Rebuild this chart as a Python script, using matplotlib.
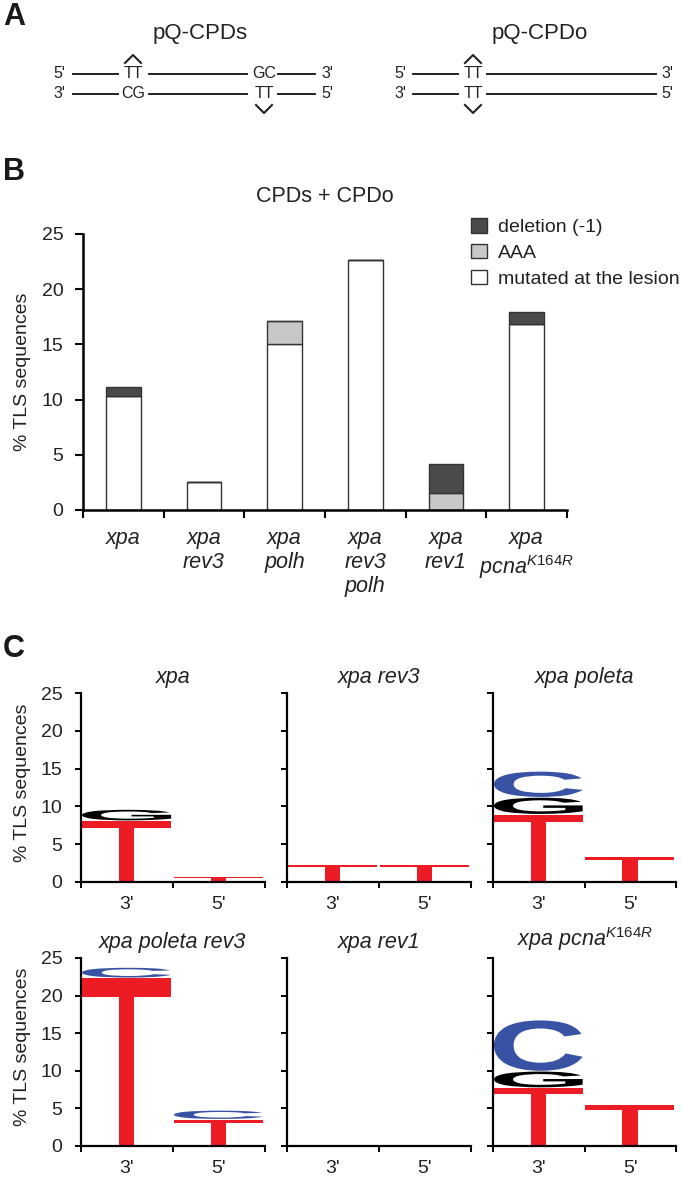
"""
TLS sequences at CPD lesions: schematic, stacked bars and sequence logos.
"""
import matplotlib
matplotlib.use('Agg')
import matplotlib.pyplot as plt
from matplotlib.font_manager import FontProperties
from matplotlib.patches import PathPatch, Patch
from matplotlib.path import Path
from matplotlib.textpath import TextPath
from matplotlib.transforms import Affine2D

plt.rcParams['font.family'] = ['Liberation Sans', 'DejaVu Sans']
plt.rcParams['mathtext.fontset'] = 'custom'
plt.rcParams['mathtext.it'] = 'Liberation Sans:italic'
plt.rcParams['mathtext.rm'] = 'Liberation Sans'

W, H = 682, 1177

# panel B
bar_labels = ['xpa', 'xpa\nrev3', 'xpa\npolh', 'xpa\nrev3\npolh', 'xpa\nrev1', 'xpa\npcna$^{K164R}$']
mutated = [10.35, 2.55, 15.0, 22.6, 0.0, 16.85]
aaa = [0.0, 0.0, 2.15, 0.0, 1.5, 0.0]
deletion = [0.8, 0.0, 0.0, 0.0, 2.7, 1.05]

# panel C, letter heights stacked from the bottom
logo_titles = ['xpa', 'xpa rev3', 'xpa poleta',
               'xpa poleta rev3', 'xpa rev1', 'xpa pcna$^{K164R}$']
xpa_3 = [('T', 8.15), ('G', 1.5)]
xpa_5 = [('T', 0.7)]
rev3_3 = [('T', 2.3)]
rev3_5 = [('T', 2.3)]
poleta_3 = [('T', 9.0), ('G', 2.25), ('C', 3.45)]
poleta_5 = [('T', 3.4)]
poleta_rev3_3 = [('T', 22.4), ('C', 1.4)]
poleta_rev3_5 = [('T', 3.6), ('C', 1.2)]
rev1_3 = []
rev1_5 = []
pcna_3 = [('T', 7.8), ('G', 2.2), ('C', 6.8)]
pcna_5 = [('T', 5.5)]
logo_data = [(xpa_3, xpa_5), (rev3_3, rev3_5), (poleta_3, poleta_5),
             (poleta_rev3_3, poleta_rev3_5), (rev1_3, rev1_5), (pcna_3, pcna_5)]
letter_colors = {'T': '#ed1c24', 'G': '#000000', 'C': '#3953a4'}

# the logo T has a thinner bar than any installed bold font
T_SHAPE = Path([(0.413, 0), (0.587, 0), (0.587, 0.89), (1, 0.89), (1, 1), (0, 1), (0, 0.89), (0.413, 0.89), (0.413, 0)],
               closed=True)

fig = plt.figure(figsize=(W / 100, H / 100), dpi=100)


def px_axes(left, right, top, bottom):
    """Axes placed by pixel position in the figure."""
    return fig.add_axes([left / W, 1 - bottom / H, (right - left) / W, (bottom - top) / H])


def draw_letter(ax, letter, x0, x1, y0, y1):
    """Stretch one glyph into a box given in data coordinates."""
    if letter == 'T':
        shape = T_SHAPE
    else:
        shape = TextPath((0, 0), letter, size=1, prop=FontProperties(family='Liberation Sans', weight='bold'))
    bb = shape.get_extents()
    tr = (Affine2D().translate(-bb.x0, -bb.y0).scale((x1 - x0) / bb.width, (y1 - y0) / bb.height)
          .translate(x0, y0))
    ax.add_patch(PathPatch(tr.transform_path(shape), fc=letter_colors[letter], ec='none', clip_on=False))


# overlay in pixel coordinates for the schematic and the panel letters
bg = fig.add_axes([0, 0, 1, 1])
bg.set_xlim(0, W)
bg.set_ylim(H, 0)
bg.axis('off')

for letter, x, y in [('A', 14, 17), ('B', 14, 172), ('C', 14, 649)]:
    bg.text(x, y, letter, fontsize=22, fontweight='bold', ha='center', va='center', color='#1a1a1a')

bg.text(200, 33, 'pQ-CPDs', fontsize=16, ha='center', va='center', color='#222222')
bg.text(540, 33, 'pQ-CPDo', fontsize=16, ha='center', va='center', color='#222222')

strand_segments = [(73, 118), (149, 247), (278, 315), (413, 458), (487, 656)]
for y in (74, 94):
    for x0, x1 in strand_segments:
        bg.plot([x0, x1], [y, y], color='#222222', lw=1.4)

seq_text = [(59, 74, "5'"), (133, 74, 'TT'), (264, 74, 'GC'), (327, 74, "3'"),
            (59, 94, "3'"), (133, 94, 'CG'), (264, 94, 'TT'), (327, 94, "5'"),
            (400, 74, "5'"), (473, 74, 'TT'), (667, 74, "3'"),
            (400, 94, "3'"), (473, 94, 'TT'), (667, 94, "5'")]
for x, y, s in seq_text:
    bg.text(x, y, s, fontsize=11.5, ha='center', va='center', color='#222222')

for x, y0, y1 in [(133, 63, 55), (473, 63, 55), (264, 105, 113), (473, 105, 113)]:
    bg.plot([x - 8, x, x + 8], [y0, y1, y0], color='#222222', lw=1.5)

# panel B
ax = px_axes(83, 567, 234, 510)
positions = [i + 0.5 for i in range(len(mutated))]
bottom_aaa = mutated
bottom_del = [m + a for m, a in zip(mutated, aaa)]
ax.bar(positions, mutated, 0.43, color='white', edgecolor='#333333', lw=1)
ax.bar(positions, aaa, 0.43, bottom=bottom_aaa, color='#c8c8c8', edgecolor='#333333', lw=1)
ax.bar(positions, deletion, 0.43, bottom=bottom_del, color='#4a4a4a', edgecolor='#333333', lw=1)
ax.set_xlim(0, 6)
ax.set_ylim(0, 25)
ax.set_yticks(range(0, 26, 5))
ax.set_xticks(range(7))
ax.set_xticklabels([])
ax.set_xticks(positions, minor=True)
ax.set_xticklabels(bar_labels, minor=True, fontstyle='italic', fontsize=15.5, color='#222222',
                   linespacing=1.18, va='top')
ax.tick_params(axis='x', which='minor', length=0, pad=13)
ax.tick_params(axis='both', which='major', length=6, width=1.5, labelsize=14, labelcolor='#222222')
ax.tick_params(axis='y', which='major', pad=8)
ax.spines[['top', 'right']].set_visible(False)
ax.spines[['left', 'bottom']].set_linewidth(1.8)
bg.text(23, 372, '% TLS sequences', fontsize=14, rotation=90, ha='center', va='center', color='#222222')
bg.text(325, 197, 'CPDs + CPDo', fontsize=15.5, ha='center', va='center', color='#222222')

legend_handles = [Patch(fc='#4a4a4a', ec='#333333', label='deletion (-1)'),
                  Patch(fc='#c8c8c8', ec='#333333', label='AAA'),
                  Patch(fc='white', ec='#333333', label='mutated at the lesion')]
fig.legend(handles=legend_handles, loc='upper left', bbox_to_anchor=(471 / W, 1 - 218 / H),
           frameon=False, fontsize=14, handlelength=0.82, handleheight=0.78, handletextpad=0.57,
           labelspacing=0.4, borderpad=0, borderaxespad=0, labelcolor='#222222')

# panel C
panel_x = [(81, 265), (287, 471), (493, 676)]
panel_y = [(693, 882), (958, 1146)]
for idx, (title, stacks) in enumerate(zip(logo_titles, logo_data)):
    row, col = divmod(idx, 3)
    left, right = panel_x[col]
    top, bottom = panel_y[row]
    ax = px_axes(left, right, top, bottom)
    ax.set_xlim(0, 2)
    ax.set_ylim(0, 25)
    for slot, stack in enumerate(stacks):
        base = 0.0
        for letter, height in stack:
            draw_letter(ax, letter, slot + 0.01, slot + 0.98, base, base + height - 0.1)
            base += height
    ax.set_yticks(range(0, 26, 5))
    ax.set_xticks([0, 1, 2])
    ax.set_xticklabels([])
    ax.set_xticks([0.5, 1.5], minor=True)
    ax.set_xticklabels(["3'", "5'"], minor=True, fontsize=14, color='#222222')
    ax.tick_params(axis='x', which='minor', length=0, pad=10)
    ax.tick_params(axis='both', which='major', length=4.5, width=1.4, labelsize=14, labelcolor='#222222')
    ax.tick_params(axis='y', which='major', pad=9)
    if col > 0:
        ax.set_yticklabels([])
    ax.spines[['top', 'right']].set_visible(False)
    ax.spines[['left', 'bottom']].set_linewidth(1.6)
    ax.patch.set_alpha(0)
    ax.text(0.5, 1.025, title, transform=ax.transAxes, fontsize=15.5, fontstyle='italic',
            ha='center', va='bottom', color='#222222')
    if col == 0:
        bg.text(23, (top + bottom) / 2 - 5, '% TLS sequences', fontsize=14, rotation=90,
                ha='center', va='center', color='#222222')

fig.savefig('out.png', dpi=100)
